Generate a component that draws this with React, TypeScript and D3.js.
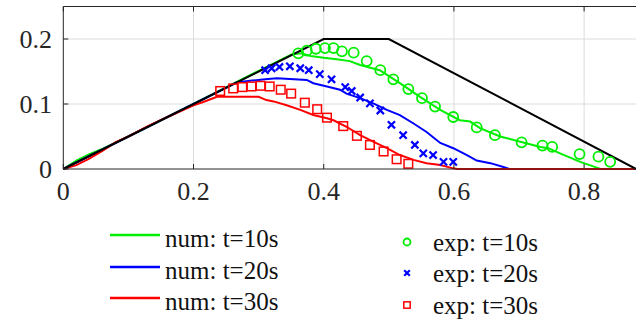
import React from 'react'
import * as d3 from 'd3'

// theoretical profile (black)
const theoryX = [0, 0.4, 0.5, 0.88]
const theoryY = [0, 0.2, 0.2, 0]

// numerical results
const numT10: [number, number][] = [
  [0, 0], [0.02, 0.013], [0.04, 0.023], [0.06, 0.031], [0.1, 0.05], [0.2, 0.1], [0.3, 0.151],
  [0.35, 0.176], [0.365, 0.178], [0.38, 0.174], [0.4, 0.171], [0.42, 0.169], [0.44, 0.166],
  [0.456, 0.16], [0.486, 0.152], [0.517, 0.132], [0.548, 0.111], [0.579, 0.091], [0.609, 0.075],
  [0.625, 0.073], [0.64, 0.063], [0.671, 0.05], [0.702, 0.042], [0.733, 0.034], [0.745, 0.032],
  [0.763, 0.024], [0.794, 0.011], [0.814, 0.004], [0.825, 0], [0.88, 0]
]
const numT20: [number, number][] = [
  [0, 0], [0.1, 0.05], [0.2, 0.1], [0.266, 0.133], [0.29, 0.136], [0.31, 0.138], [0.328, 0.1395],
  [0.374, 0.137], [0.384, 0.132], [0.405, 0.127], [0.425, 0.122], [0.435, 0.116], [0.456, 0.109],
  [0.476, 0.101], [0.497, 0.091], [0.517, 0.083], [0.538, 0.07], [0.558, 0.057], [0.579, 0.04],
  [0.599, 0.032], [0.62, 0.0215], [0.635, 0.013], [0.656, 0.009], [0.676, 0.003], [0.685, 0], [0.88, 0]
]
const numT30: [number, number][] = [
  [0, 0], [0.02, 0.006], [0.04, 0.016], [0.06, 0.028], [0.08, 0.041], [0.1, 0.05], [0.13, 0.066],
  [0.16, 0.08], [0.2, 0.098], [0.215, 0.103], [0.236, 0.111], [0.3, 0.111], [0.312, 0.106],
  [0.323, 0.104], [0.343, 0.098], [0.364, 0.091], [0.384, 0.083], [0.405, 0.078], [0.415, 0.075],
  [0.435, 0.065], [0.456, 0.052], [0.476, 0.042], [0.497, 0.032], [0.517, 0.0215], [0.538, 0.014],
  [0.558, 0.009], [0.579, 0.006], [0.599, 0.001], [0.605, 0], [0.88, 0]
]

// experimental results
const expT10: [number, number][] = [
  [0.361, 0.178], [0.374, 0.182], [0.388, 0.185], [0.402, 0.186], [0.415, 0.186], [0.428, 0.181],
  [0.446, 0.179], [0.466, 0.166], [0.487, 0.152], [0.507, 0.138], [0.53, 0.123], [0.551, 0.109],
  [0.571, 0.096], [0.599, 0.08], [0.635, 0.064], [0.663, 0.052], [0.704, 0.041], [0.736, 0.036],
  [0.751, 0.034], [0.793, 0.023], [0.822, 0.019], [0.84, 0.011]
]
const expT20: [number, number][] = [
  [0.31, 0.152], [0.32, 0.155], [0.332, 0.157], [0.348, 0.158], [0.364, 0.155], [0.377, 0.152],
  [0.394, 0.146], [0.412, 0.138], [0.433, 0.126], [0.443, 0.12], [0.456, 0.11], [0.471, 0.101],
  [0.487, 0.09], [0.504, 0.068], [0.522, 0.052], [0.54, 0.037], [0.553, 0.024], [0.568, 0.0215],
  [0.584, 0.011], [0.599, 0.011]
]
const expT30: [number, number][] = [
  [0.241, 0.12], [0.261, 0.124], [0.275, 0.126], [0.289, 0.127], [0.303, 0.128], [0.317, 0.127],
  [0.334, 0.122], [0.35, 0.116], [0.371, 0.102], [0.39, 0.092], [0.405, 0.079], [0.43, 0.066],
  [0.451, 0.051], [0.471, 0.037], [0.492, 0.027], [0.512, 0.015], [0.53, 0.008]
]

const xTicks = [0, 0.2, 0.4, 0.6, 0.8]
const yTicks = [0, 0.1, 0.2]
const numLabels = ['num: t=10s', 'num: t=20s', 'num: t=30s']
const expLabels = ['exp: t=10s', 'exp: t=20s', 'exp: t=30s']

const GREEN = '#00ee00'
const BLUE = '#0000ff'
const RED = '#ff0000'
const FONT = "'Liberation Serif', 'DejaVu Serif', serif"

const x = d3.scaleLinear().domain([0, 0.88]).range([63.3, 636.2])
const y = d3.scaleLinear().domain([0, 0.25]).range([169, 6.5])

const line = d3.line<[number, number]>().x(d => x(d[0])).y(d => y(d[1]))

const Circle = ({ cx, cy, r }: { cx: number, cy: number, r: number }) =>
  <circle cx={cx} cy={cy} r={r} fill="none" stroke={GREEN} strokeWidth={1.8} />
const Cross = ({ cx, cy, s }: { cx: number, cy: number, s: number }) =>
  <path d={`M${cx - s},${cy - s}L${cx + s},${cy + s}M${cx - s},${cy + s}L${cx + s},${cy - s}`}
    stroke={BLUE} strokeWidth={2.2} fill="none" />
const Square = ({ cx, cy, s }: { cx: number, cy: number, s: number }) =>
  <rect x={cx - s} y={cy - s} width={2 * s} height={2 * s} fill="none" stroke={RED} strokeWidth={1.5} />

export default function App() {
  const theory = theoryX.map((v, i) => [v, theoryY[i]] as [number, number])
  const [x0, x1] = x.range()
  const [y0, y1] = y.range()
  const legendLineY = [235, 267, 298]
  const legendMarkY = [242, 273, 305]
  const markers = [
    (cy: number) => <Circle cx={407} cy={cy} r={3.5} />,
    (cy: number) => <Cross cx={407} cy={cy} s={2.8} />,
    (cy: number) => <Square cx={407} cy={cy} s={3.2} />
  ]
  const textStyle = { fontFamily: FONT }
  return (
    <svg width={636} height={322} style={{ position: 'absolute', left: 0, top: 0, background: '#fff' }}>
      {/* grid */}
      {xTicks.filter(t => t > 0).map(t =>
        <line key={'gx' + t} x1={x(t)} x2={x(t)} y1={y0} y2={y1} stroke="#dcdcdc" strokeWidth={1} />)}
      {yTicks.filter(t => t > 0).map(t =>
        <line key={'gy' + t} x1={x0} x2={x1} y1={y(t)} y2={y(t)} stroke="#dcdcdc" strokeWidth={1} />)}

      {/* data */}
      <path d={line(numT10) || ''} fill="none" stroke={GREEN} strokeWidth={2} />
      <path d={line(numT20) || ''} fill="none" stroke={BLUE} strokeWidth={2} />
      <path d={line(numT30) || ''} fill="none" stroke={RED} strokeWidth={2} />
      <path d={line(theory) || ''} fill="none" stroke="#000" strokeWidth={2} />
      {expT10.map((d, i) => <Circle key={'c' + i} cx={x(d[0])} cy={y(d[1])} r={5} />)}
      {expT20.map((d, i) => <Cross key={'x' + i} cx={x(d[0])} cy={y(d[1])} s={3.6} />)}
      {expT30.map((d, i) => <Square key={'s' + i} cx={x(d[0])} cy={y(d[1])} s={4.3} />)}

      {/* frame and ticks */}
      <path d={`M${x0},${y1}H${x1}M${x0},${y1}V${y0}H${x1}`} fill="none" stroke="#262626" strokeWidth={1} />
      {xTicks.map(t => <g key={'tx' + t}>
        <line x1={x(t)} x2={x(t)} y1={y0} y2={y0 - 5} stroke="#262626" />
        <line x1={x(t)} x2={x(t)} y1={y1} y2={y1 + 5} stroke="#262626" />
        <text x={x(t)} y={200} textAnchor="middle" style={textStyle} fontSize={26} fill="#262626">{String(t)}</text>
      </g>)}
      {yTicks.map(t => <g key={'ty' + t}>
        <line x1={x0} x2={x0 + 5} y1={y(t)} y2={y(t)} stroke="#262626" />
        <text x={52} y={y(t) + 9} textAnchor="end" style={textStyle} fontSize={26} fill="#262626">{String(t)}</text>
      </g>)}

      {/* legend */}
      {[GREEN, BLUE, RED].map((c, i) => <g key={'ln' + i}>
        <line x1={110} x2={160} y1={legendLineY[i]} y2={legendLineY[i]} stroke={c} strokeWidth={2.5} />
        <text x={165} y={legendLineY[i] + 11.5} style={textStyle} fontSize={25} fill="#111">{numLabels[i]}</text>
      </g>)}
      {expLabels.map((l, i) => <g key={'le' + i}>
        {markers[i](legendMarkY[i])}
        <text x={433} y={legendMarkY[i] + 9} style={textStyle} fontSize={25} fill="#111">{l}</text>
      </g>)}
    </svg>
  )
}
